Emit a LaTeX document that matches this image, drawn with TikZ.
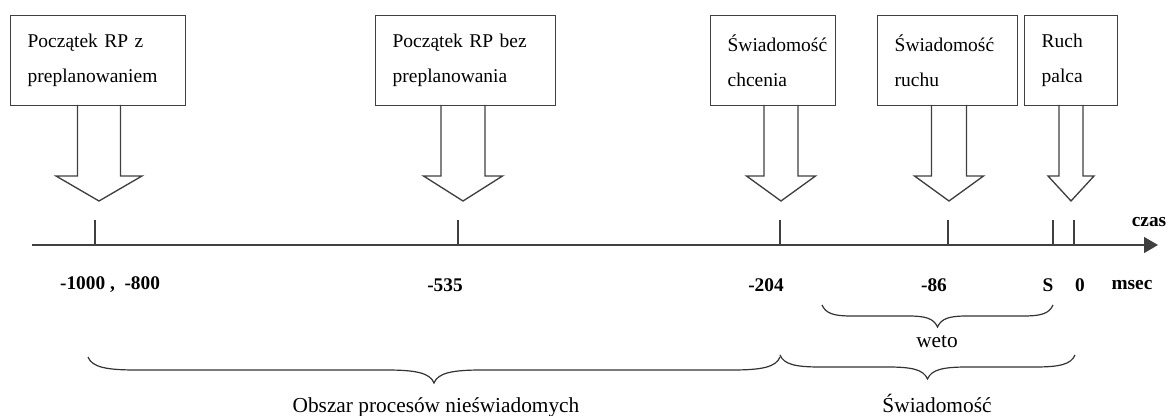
\documentclass[tikz,border=0pt]{standalone}
\usepackage{fontspec}
\setmainfont{Liberation Serif}
\usetikzlibrary{arrows.meta}

% block arrow under a box: x of the tip, half of the shaft, half of the head
\newcommand{\strzalka}[3]{%
  \draw[blok] (#1-#2,105) -- (#1-#2,176) -- (#1-#3,176) -- (#1,201)
    -- (#1+#3,176) -- (#1+#2,176) -- (#1+#2,105);}

% curly brace: x1, x2, top y, half depth, width of the end curves
\newcommand{\klamra}[5]{%
  \draw[nawias] (#1,#3) .. controls (#1+4,#3+#4*0.8) and (#1+#5*0.4,#3+#4) .. (#1+#5,#3+#4)
    -- ({(#1+#2)/2-#5},#3+#4)
    .. controls ({(#1+#2)/2-#5*0.4},#3+#4) and ({(#1+#2)/2-4},#3+#4*1.2) .. ({(#1+#2)/2},#3+2*#4)
    .. controls ({(#1+#2)/2+4},#3+#4*1.2) and ({(#1+#2)/2+#5*0.4},#3+#4) .. ({(#1+#2)/2+#5},#3+#4)
    -- (#2-#5,#3+#4) .. controls (#2-#5*0.4,#3+#4) and (#2-4,#3+#4*0.8) .. (#2,#3);}

\begin{document}
\begin{tikzpicture}[x=0.75pt,y=-0.75pt,
  okno/.style={draw=black!75, line width=1pt, anchor=north west, align=left,
    inner xsep=12.75pt, minimum height=67.5pt,
    font=\fontsize{14.6}{26.25}\selectfont},
  blok/.style={draw=black!75, line width=1pt, line join=miter},
  nawias/.style={draw=black!80, line width=0.9pt},
  etykieta/.style={font=\fontsize{14.5}{17}\selectfont\bfseries},
  opis/.style={anchor=base, font=\fontsize{16}{19}\selectfont}]
\path[use as bounding box, fill=white] (0,0) rectangle (1174,416);

% boxes at the top
\node[okno, text width=105.75pt] (rp1) at (10,15) {Początek RP z\\preplanowaniem};
\node[okno, text width=109.5pt] (rp2) at (375,15) {Początek RP bez\\preplanowania};
\node[okno, text width=68.25pt] (chcenie) at (710,15) {Świadomość\\chcenia};
\node[okno, text width=79.5pt] (ruch) at (877,15) {Świadomość\\ruchu};
\node[okno, text width=44.25pt] (palec) at (1024,15) {Ruch\\palca};

\strzalka{99}{21.5}{43}
\strzalka{463}{22}{39.5}
\strzalka{781}{17}{34.5}
\strzalka{949}{17.5}{34.5}
\strzalka{1071}{12}{23}

% time axis
\coordinate (start) at (32,245);
\coordinate (koniec) at (1158,245);
\draw[black!75, line width=1pt, -{Triangle[length=10.5pt,width=12pt]}] (start) -- (koniec);
\foreach \t in {95,458,780,948,1053,1074}
  \draw[black!75, line width=1pt] (\t,220) -- (\t,245);

\node[etykieta] (czas) at (1149,222) {czas};
\node[etykieta] (t1000) at (110,285) {-1000 ,\ \ -800};
\node[etykieta] (t535) at (445,285) {-535};
\node[etykieta] (t204) at (766,285) {-204};
\node[etykieta] (t86) at (934,285) {-86};
\node[etykieta] (tS) at (1048,285) {S};
\node[etykieta] (t0) at (1080,285) {0};
\node[etykieta] (msec) at (1132,285) {msec};

% braces
\klamra{822}{1053}{305}{11}{30}
\klamra{88}{780}{357}{13}{48}
\klamra{780}{1075}{355}{12}{40}

\node[opis] (weto) at (937,348) {weto};
\node[opis] (obszar) at (436,412) {Obszar procesów nieświadomych};
\node[opis] (swiadomosc) at (937,412) {Świadomość};
\end{tikzpicture}
\end{document}
